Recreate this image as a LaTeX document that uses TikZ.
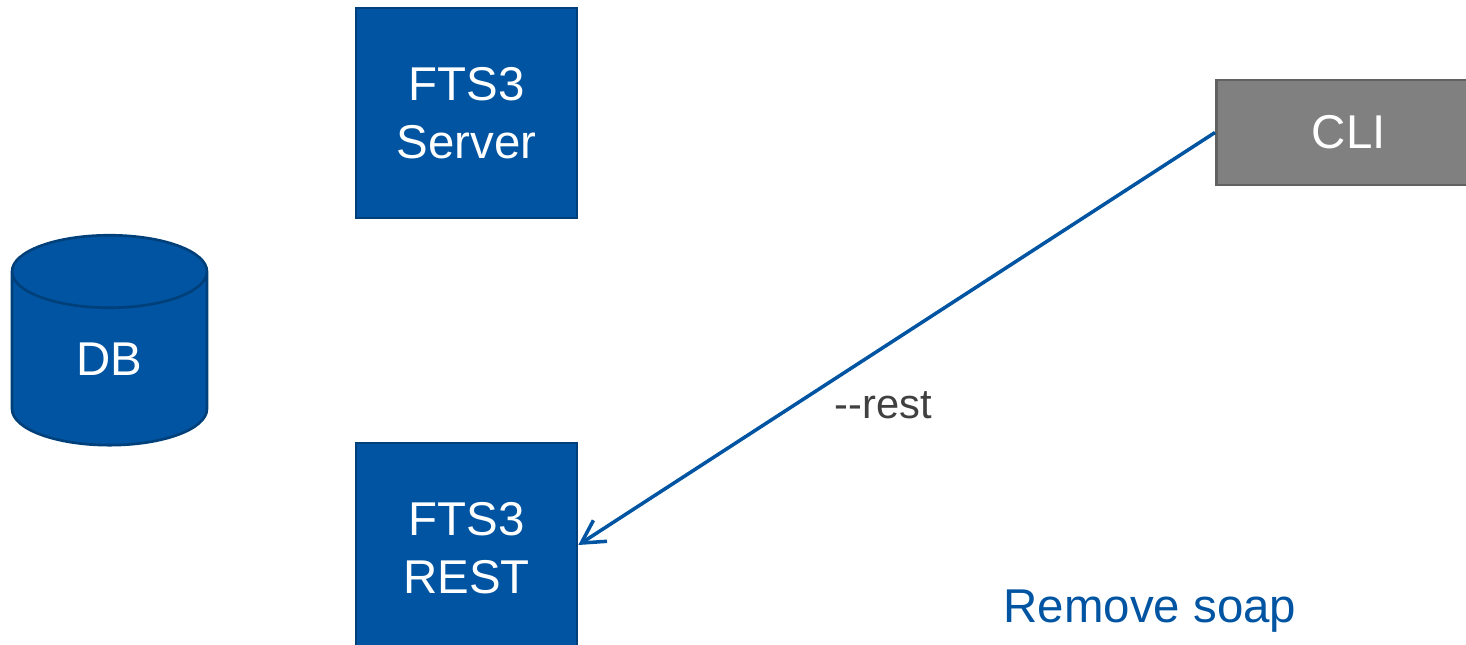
\documentclass[tikz,border=0pt]{standalone}
\usepackage{fontspec}
\setmainfont{Liberation Sans}
\usetikzlibrary{arrows.meta,positioning,shapes.geometric}
\definecolor{ftsblue}{rgb}{0.00,0.33,0.63}
\definecolor{ftsblueborde}{rgb}{0.00,0.25,0.48}
\definecolor{cligray}{rgb}{0.50,0.50,0.50}
\definecolor{cligrayborde}{rgb}{0.38,0.38,0.38}
\definecolor{textogris}{rgb}{0.25,0.25,0.25}
\tikzset{
  modulo/.style={
    draw=ftsblueborde,
    line width=1.5pt,
    fill=ftsblue,
    text=white,
    align=center,
    minimum width=4.42cm,
    minimum height=4.2cm,
    inner sep=0pt,
    font=\fontsize{27}{33}\selectfont
  },
  cliente/.style={
    draw=cligrayborde,
    line width=1.5pt,
    fill=cligray,
    text=white,
    minimum width=5.3cm,
    minimum height=2.1cm,
    inner sep=0pt,
    font=\fontsize{27}{33}\selectfont
  },
  basedatos/.style={
    cylinder,
    shape border rotate=90,
    aspect=1.1,
    draw=ftsblueborde,
    line width=1.5pt,
    fill=ftsblue,
    text=white,
    minimum width=3.9cm,
    minimum height=4.2cm,
    inner sep=0pt,
    font=\fontsize{27}{33}\selectfont
  },
  arrow/.style={
    -{Straight Barb[length=4.5mm,width=5mm]},
    line width=2pt,
    ftsblue
  }
}
\begin{document}
\begin{tikzpicture}[x=0.02cm,y=-0.02cm]
\useasboundingbox (0,0) rectangle (1466,645);
\node[modulo] (server) at (466.5,113) {FTS3\\Server};
\node[modulo,below=4.45cm of server] (rest) {FTS3\\REST};
\node[cliente,anchor=west] (cli) at (1215,132.5) {CLI};
\node[basedatos] (db) at (109.5,359) {DB};
\draw[arrow] (cli.west) -- (rest.east |- 0,545);
\node[text=textogris,font=\fontsize{23.7}{28}\selectfont] (opcion) at (883,405) {-{}-rest};
\node[text=ftsblue,font=\fontsize{27}{33}\selectfont] (nota) at (1150,611) {Remove soap};
\end{tikzpicture}
\end{document}
